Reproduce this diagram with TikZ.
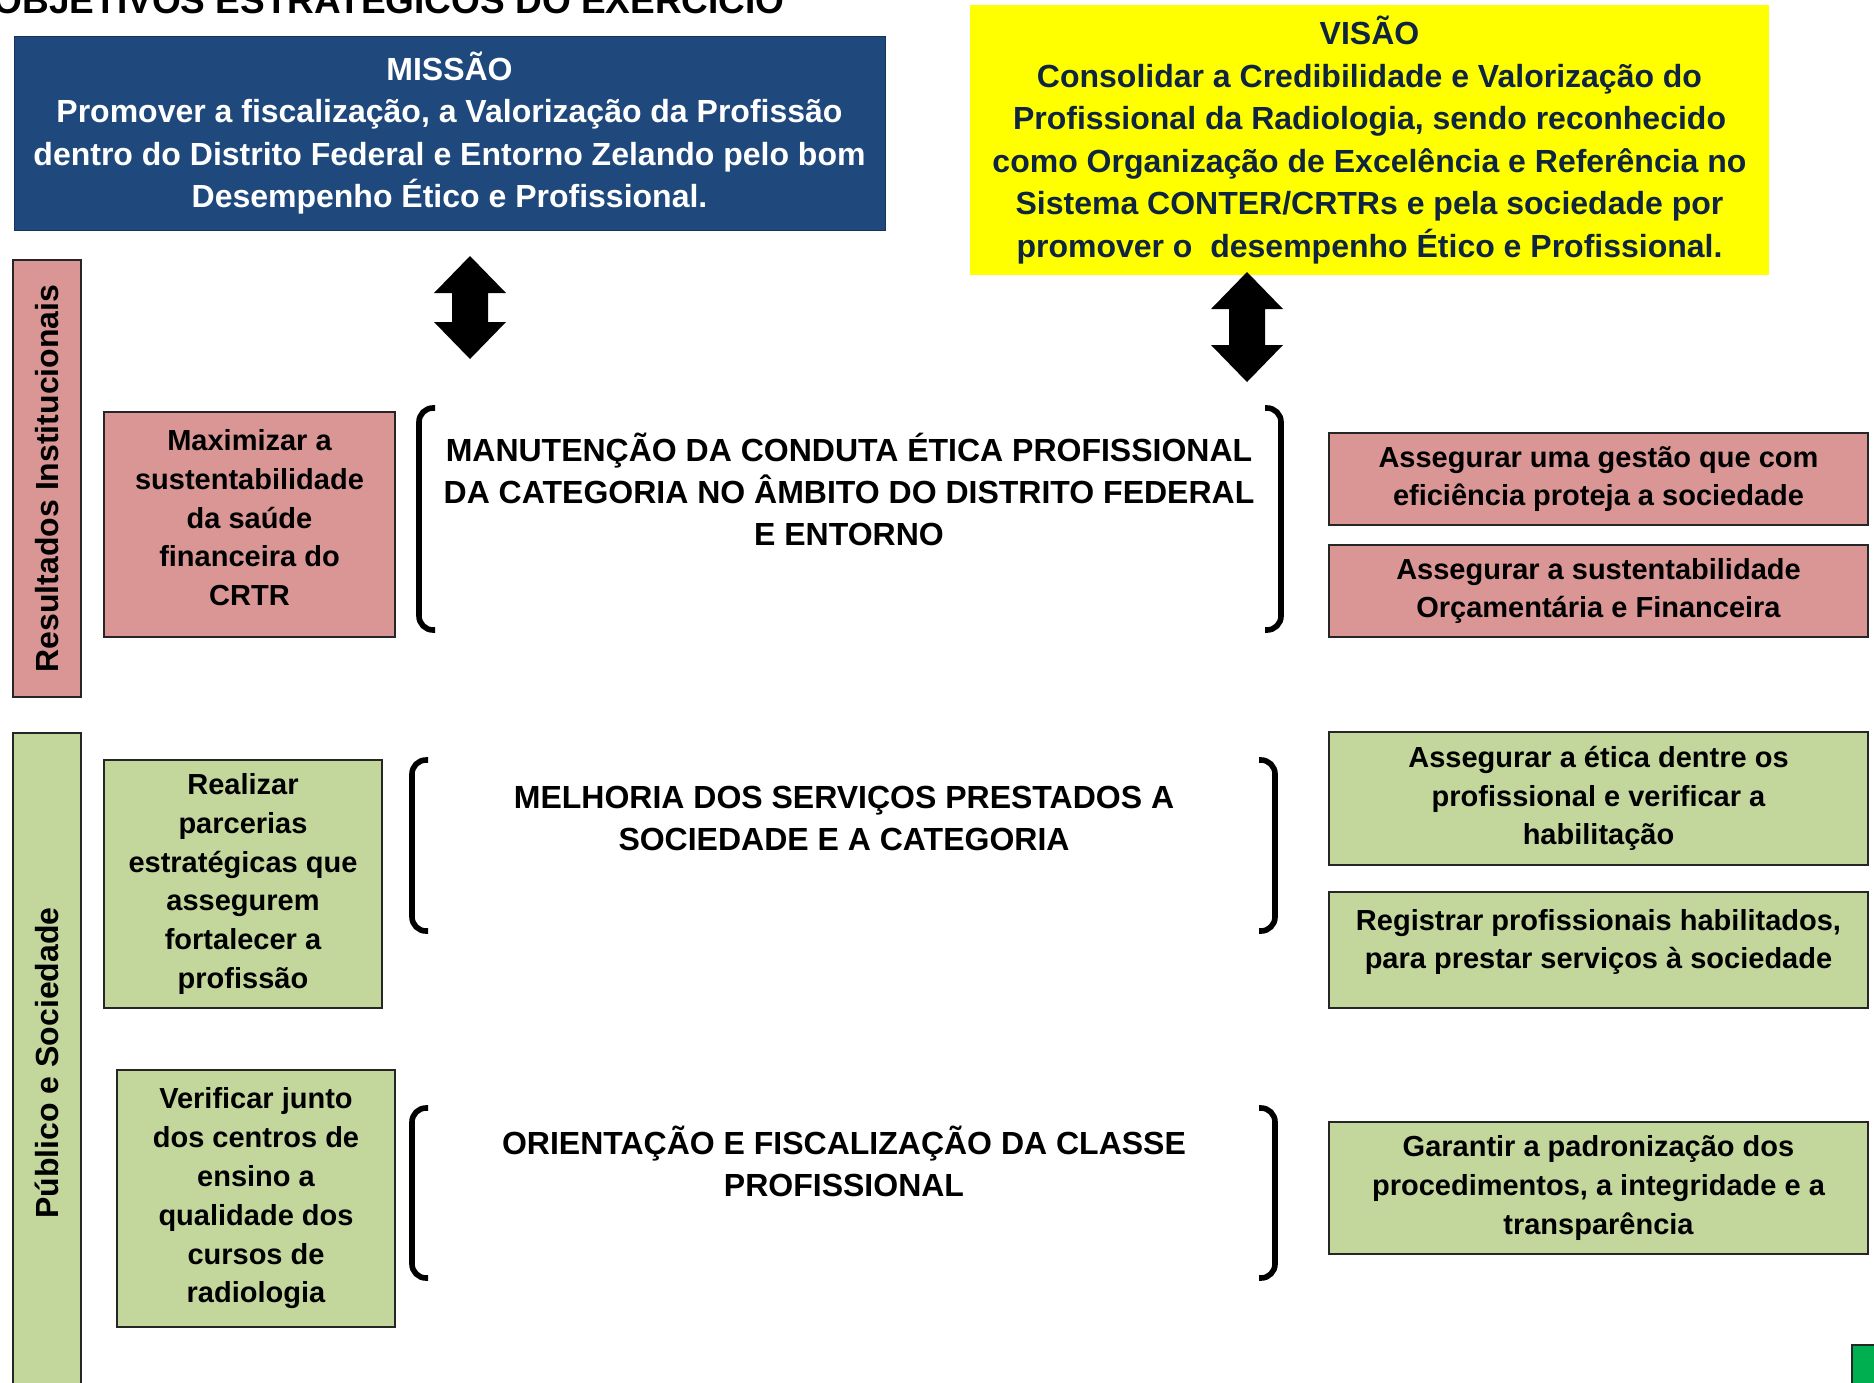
\documentclass[tikz,border=0pt]{standalone}
\usepackage{fontspec}
\setmainfont{Liberation Sans}
\usetikzlibrary{positioning}

\definecolor{missaoazul}{HTML}{1F497D}
\definecolor{visaoamarelo}{HTML}{FFFF00}
\definecolor{visaotexto}{HTML}{0F243E}
\definecolor{rosa}{HTML}{D99694}
\definecolor{verde}{HTML}{C3D69B}
\definecolor{verdeforte}{HTML}{00B050}

\tikzset{
  caixa/.style={draw=black!85, line width=1pt, align=center, inner sep=0pt,
    font=\bfseries\fontsize{14.5}{19.4}\selectfont},
  caixarosa/.style={caixa, fill=rosa},
  caixaverde/.style={caixa, fill=verde},
  faixa/.style={draw=black!85, line width=1pt, inner sep=0pt, rotate=90,
    minimum height=34pt, font=\bfseries\fontsize{16}{19}\selectfont},
  titulo/.style={align=center, inner sep=0pt, font=\bfseries\fontsize{16}{21}\selectfont},
  colchete/.style={line width=2.8pt, rounded corners=7pt}
}

\begin{document}
\begin{tikzpicture}[x=0.5pt, y=-0.5pt]
            \useasboundingbox (0,0) rectangle (1874,1382);
            \clip (0,0) rectangle (1874,1382);

            \node[anchor=base east, inner sep=0pt, font=\bfseries\fontsize{18.5}{22}\selectfont] (objetivos) at (785,13.5) {OBJETIVOS ESTRATÉGICOS DO EXERCÍCIO};

            \node[titulo, fill=missaoazul, draw=missaoazul!70!black, text=white, minimum width=435.5pt, minimum height=97pt, font=\bfseries\fontsize{16}{21.2}\selectfont] (missao) at (449.5,133) {MISSÃO\\Promover a fiscalização, a Valorização da Profissão\\dentro do Distrito Federal e Entorno Zelando pelo bom\\Desempenho Ético e Profissional.};
            \node[titulo, fill=visaoamarelo, text=visaotexto, minimum width=399.5pt, minimum height=135pt, font=\bfseries\fontsize{16}{21.3}\selectfont] (visao) at (1369.5,140) {VISÃO\\Consolidar a Credibilidade e Valorização do\\Profissional da Radiologia, sendo reconhecido\\como Organização de Excelência e Referência no\\Sistema CONTER/CRTRs e pela sociedade por\\promover o \ desempenho Ético e Profissional.};

            % setas duplas
            \foreach \x/\t/\b in {470/256/359, 1247/272/382}
                \fill (\x,\t) -- (\x+36,\t+37) -- (\x+18,\t+37) -- (\x+18,\b-37) -- (\x+36,\b-37) -- (\x,\b)
                    -- (\x-36,\b-37) -- (\x-18,\b-37) -- (\x-18,\t+37) -- (\x-36,\t+37) -- cycle;

            \node[faixa, fill=rosa, minimum width=218.5pt] (resultados) at (47,478.5) {Resultados Institucionais};
            \node[faixa, fill=verde, minimum width=330pt] (publico) at (47,1063) {Público e Sociedade};

            \node[caixarosa, minimum width=145.5pt, minimum height=112.5pt, text depth=7pt] (maximizar) at (249.5,524.5) {Maximizar a\\sustentabilidade\\da saúde\\financeira do\\CRTR};
            \node[caixaverde, minimum width=139pt, minimum height=124pt] (realizar) at (243,884) {Realizar\\parcerias\\estratégicas que\\assegurem\\fortalecer a\\profissão};
            \node[caixaverde, minimum width=139pt, minimum height=128.5pt] (verificar) at (256,1198.5) {Verificar junto\\dos centros de\\ensino a\\qualidade dos\\cursos de\\radiologia};

            \node[titulo] (manutencao) at (849,489) {MANUTENÇÃO DA CONDUTA ÉTICA PROFISSIONAL\\DA CATEGORIA NO ÂMBITO DO DISTRITO FEDERAL\\E ENTORNO};
            \node[titulo] (melhoria) at (844,818) {MELHORIA DOS SERVIÇOS PRESTADOS A\\SOCIEDADE E A CATEGORIA};
            \node[titulo] (orientacao) at (844,1161) {ORIENTAÇÃO E FISCALIZAÇÃO DA CLASSE\\PROFISSIONAL};

            % colchetes
            \draw[colchete] (435,408) -- (419,408) -- (419,630) -- (435,630);
            \draw[colchete] (1265,408) -- (1281,408) -- (1281,630) -- (1265,630);
            \draw[colchete] (428,760) -- (412,760) -- (412,931) -- (428,931);
            \draw[colchete] (1259,760) -- (1275,760) -- (1275,931) -- (1259,931);
            \draw[colchete] (428,1108) -- (412,1108) -- (412,1278) -- (428,1278);
            \draw[colchete] (1259,1108) -- (1275,1108) -- (1275,1278) -- (1259,1278);

            \node[caixarosa, minimum width=269.5pt, minimum height=46pt] (gestao) at (1598.5,479) {Assegurar uma gestão que com\\eficiência proteja a sociedade};
            \node[caixarosa, minimum width=269.5pt, minimum height=46pt] (orcamento) at (1598.5,591) {Assegurar a sustentabilidade\\Orçamentária e Financeira};
            \node[caixaverde, minimum width=269.5pt, minimum height=66.5pt] (etica) at (1598.5,798.5) {Assegurar a ética dentre os\\profissional e verificar a\\habilitação};
            \node[caixaverde, minimum width=269.5pt, minimum height=58pt, text depth=11pt] (registrar) at (1598.5,950) {Registrar profissionais habilitados,\\para prestar serviços à sociedade};
            \node[caixaverde, minimum width=269.5pt, minimum height=66pt] (garantir) at (1598.5,1188) {Garantir a padronização dos\\procedimentos, a integridade e a\\transparência};

            \node[draw=black!85, line width=1pt, fill=verdeforte, anchor=north west, minimum width=40pt, minimum height=40pt] (canto) at (1851,1344) {};
\end{tikzpicture}
\end{document}
